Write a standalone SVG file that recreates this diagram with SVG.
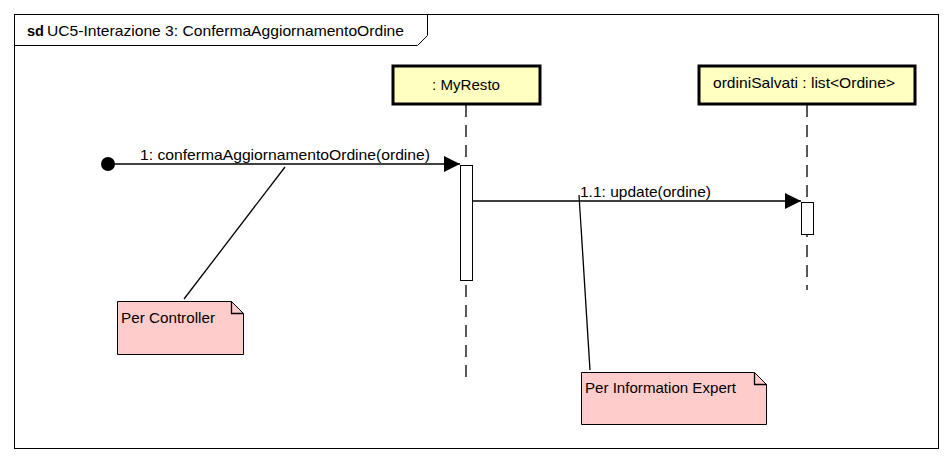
<svg xmlns="http://www.w3.org/2000/svg" width="952" height="464" viewBox="0 0 952 464">
<style>
text{font-family:"Liberation Sans",Arial,sans-serif;font-size:15px;fill:#000}
.life{fill:#FFFFC0;stroke:#000;stroke-width:3}
.dash{stroke:#000;stroke-width:1.3;stroke-dasharray:12,8;fill:none}
.act{fill:#fff;stroke:#000;stroke-width:1}
.note{fill:#FFCCCC;stroke:#000;stroke-width:1}
.ln{stroke:#000;stroke-width:1.3;fill:none}
</style>
<defs>
<marker id="arr" markerWidth="16" markerHeight="16" refX="16" refY="8" orient="auto" markerUnits="userSpaceOnUse">
<path d="M0,0 L16,8 L0,16 Z" fill="#000"/>
</marker>
</defs>
<rect x="0" y="0" width="952" height="464" fill="#fff"/>
<g id="frame">
<rect x="14.5" y="14.5" width="924" height="434" fill="#fff" stroke="#000"/>
<path d="M14.5,45.5 L417.5,45.5 L427.5,35.5 L427.5,14.5" fill="none" stroke="#000"/>
<text x="27" y="36" font-weight="bold" textLength="17" lengthAdjust="spacingAndGlyphs">sd</text>
<text x="47" y="36" textLength="357" lengthAdjust="spacingAndGlyphs">UC5-Interazione 3: ConfermaAggiornamentoOrdine</text>
</g>
<g id="myresto">
<line class="dash" x1="466" y1="105" x2="466" y2="385"/>
<rect class="life" x="393" y="66" width="147" height="38"/>
<text x="432" y="90" textLength="68" lengthAdjust="spacingAndGlyphs">: MyResto</text>
<rect class="act" x="460.5" y="165.5" width="12" height="115"/>
</g>
<g id="ordiniSalvati">
<line class="dash" x1="807" y1="105" x2="807" y2="290"/>
<rect class="life" x="699" y="66" width="216" height="38"/>
<text x="713" y="88" textLength="182" lengthAdjust="spacingAndGlyphs">ordiniSalvati : list&lt;Ordine&gt;</text>
<rect class="act" x="801.5" y="202.5" width="12" height="32"/>
</g>
<g id="noteController">
<path class="note" d="M117.5,301.5 L231.5,301.5 L243.5,313.5 L243.5,354.5 L117.5,354.5 Z"/>
<path class="ln" d="M231.5,301.5 L231.5,313.5 L243.5,313.5" stroke-width="1"/>
<text x="121" y="323" textLength="94" lengthAdjust="spacingAndGlyphs">Per Controller</text>
</g>
<g id="noteExpert">
<path class="note" d="M581.5,372.5 L754.5,372.5 L766.5,384.5 L766.5,424.5 L581.5,424.5 Z"/>
<path class="ln" d="M754.5,372.5 L754.5,384.5 L766.5,384.5" stroke-width="1"/>
<text x="585" y="393" textLength="151" lengthAdjust="spacingAndGlyphs">Per Information Expert</text>
</g>
<g id="connectors">
<circle cx="108" cy="164" r="7" fill="#000"/>
<line class="ln" x1="108" y1="164" x2="460" y2="164" marker-end="url(#arr)"/>
<text x="140" y="160" textLength="290" lengthAdjust="spacingAndGlyphs">1: confermaAggiornamentoOrdine(ordine)</text>
<line class="ln" x1="472" y1="201" x2="801" y2="201" marker-end="url(#arr)"/>
<text x="580" y="197" textLength="131" lengthAdjust="spacingAndGlyphs">1.1: update(ordine)</text>
<line class="ln" x1="285" y1="167" x2="184" y2="299"/>
<line class="ln" x1="579" y1="195" x2="590" y2="370"/>
</g>
</svg>
